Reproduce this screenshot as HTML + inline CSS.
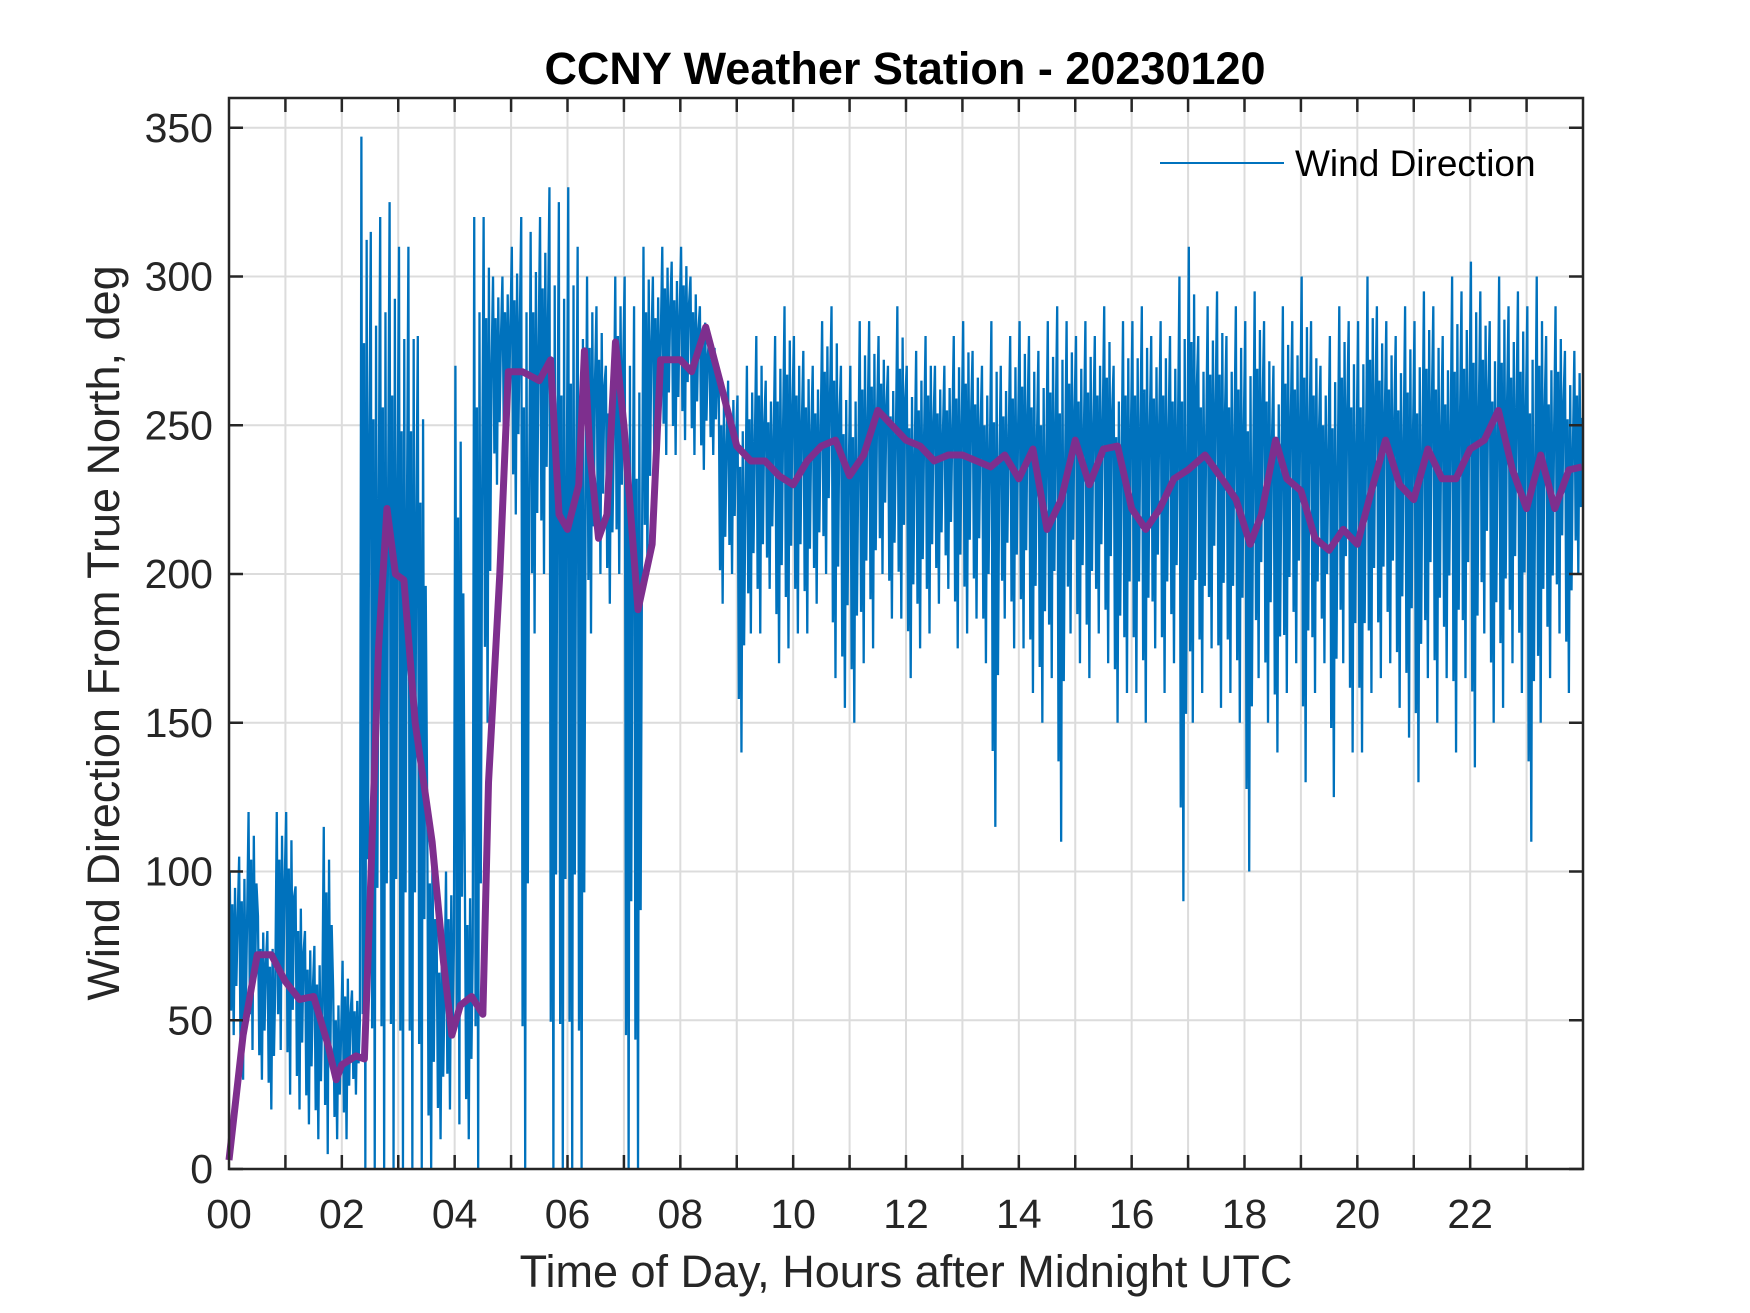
<!DOCTYPE html>
<html><head><meta charset="utf-8"><style>
body{margin:0;background:#fff}
svg{display:block}
text{font-family:"Liberation Sans",Arial,sans-serif;fill:#262626}
</style></head><body>
<svg id="chart" width="1750" height="1313" viewBox="0 0 1750 1313" xmlns="http://www.w3.org/2000/svg">
<rect width="1750" height="1313" fill="#fff"/>
<g id="grid"></g>
<g id="plot"></g>
<g id="axes"></g>
<text x="905" y="84" text-anchor="middle" font-size="45" font-weight="bold" style="fill:#000">CCNY Weather Station - 20230120</text>
<text x="906" y="1287" text-anchor="middle" font-size="45">Time of Day, Hours after Midnight UTC</text>
<text transform="translate(119,633) rotate(-90)" text-anchor="middle" font-size="45">Wind Direction From True North, deg</text>
<g>
<line x1="1160" y1="163" x2="1284" y2="163" stroke="#0072BD" stroke-width="2"/>
<text x="1295" y="176" font-size="37" style="fill:#000">Wind Direction</text>
</g>
</svg>
<script>
const xTicks = [0,2,4,6,8,10,12,14,16,18,20,22];
const xTickLabels = ["00","02","04","06","08","10","12","14","16","18","20","22"];
const yTicks = [0,50,100,150,200,250,300,350];
const blueHi = [100,105,120,85,80,120, 120,95,80,75,115,60, 70,60,347,315,320,325, 310,310,280,120,80,100, 270,100,320,320,300,300,
 310,320,315,320,330,325, 330,310,300,290,270,300, 300,290,310,300,310,305, 310,300,290,280,265,265, 260,270,280,265,280,290,
 280,275,270,285,290,270, 270,285,285,280,270,290, 270,275,280,270,270,280, 285,275,270,285,270,280, 285,280,275,285,290,285,
 280,285,280,290,270,285, 285,290,280,285,280,300, 310,280,290,295,280,290, 285,295,285,270,290,285, 300,285,270,280,290,285,
 285,300,290,285,280,290, 285,295,290,280,300,295, 305,295,285,300,290,295, 290,300,280,290,275,275];
const blueLo = [45,30,40,30,20,40, 25,20,15,10,5,10, 10,25,0,0,0,0, 0,0,0,0,10,20, 15,10,0,150,230,240,
 220,0,180,200,0,0, 0,0,180,200,190,200, 0,0,200,230,240,240, 245,240,235,240,190,200, 140,180,180,195,170,175,
 180,180,190,200,165,155, 150,170,175,200,185,185, 165,175,180,190,195,175, 180,185,170,115,185,175, 175,160,150,165,110,180,
 170,165,180,170,150,160, 160,150,175,160,170,90, 150,160,175,155,160,150, 100,165,150,140,160,170, 130,160,170,125,170,140,
 140,160,165,170,155,145, 130,165,150,165,140,165, 135,180,150,155,170,160, 110,150,165,180,160,200];
const maHours = [0,0.25,0.5,0.75,1,1.25,1.5,1.75,1.9,2,2.25,2.4,2.5,2.65,2.8,2.95,3.1,3.3,3.6,3.8,3.95,4.1,4.3,4.5,4.6,4.8,4.95,5.2,5.5,5.7,5.85,6,6.2,6.3,6.4,6.55,6.7,6.85,7,7.25,7.5,7.65,8,8.2,8.45,8.7,9,9.25,9.5,9.75,10,10.25,10.5,10.75,11,11.25,11.5,11.75,12,12.25,12.5,12.75,13,13.25,13.5,13.75,14,14.25,14.5,14.75,15,15.25,15.5,15.75,16,16.25,16.5,16.75,17,17.3,17.6,17.85,18.1,18.3,18.55,18.75,19,19.25,19.5,19.75,20,20.25,20.5,20.75,21,21.25,21.5,21.75,22,22.25,22.5,22.75,23,23.25,23.5,23.75,23.98];
const maValues = [3,45,72,72,63,57,58,42,30,35,38,37,90,175,222,200,198,150,110,70,45,55,58,52,130,200,268,268,265,272,220,215,230,275,240,212,220,278,250,188,210,272,272,268,283,265,243,238,238,233,230,238,243,245,233,240,255,250,245,243,238,240,240,238,236,240,232,242,215,225,245,230,242,243,222,215,222,232,235,240,232,225,210,220,245,232,228,212,208,215,210,228,245,230,225,242,232,232,242,245,255,235,222,240,222,235,236];

const L=229,R=1583,T=98,B=1169;
const X=h=>L+(h/24)*(R-L);
const Y=v=>B-(v/360)*(B-T);
const NS="http://www.w3.org/2000/svg";
function mk(tag,attrs,parent){const e=document.createElementNS(NS,tag);for(const k in attrs)e.setAttribute(k,attrs[k]);parent.appendChild(e);return e;}
const grid=document.getElementById('grid'),plot=document.getElementById('plot'),axes=document.getElementById('axes');
for(let h=1;h<24;h++){
  const g=mk('line',{x1:X(h),x2:X(h),y1:T,y2:B,stroke:'#dcdcdc','stroke-width':2},grid);
  
  
  const t1=mk('line',{x1:X(h),x2:X(h),y1:B,y2:B-14,stroke:'#262626','stroke-width':2.5},axes);
  
  
  const t2=mk('line',{x1:X(h),x2:X(h),y1:T,y2:T+14,stroke:'#262626','stroke-width':2.5},axes);
  
  
}
yTicks.forEach(v=>{
  if(v>0){const g=mk('line',{x1:L,x2:R,y1:Y(v),y2:Y(v),stroke:'#dcdcdc','stroke-width':2},grid);
  
  }
  const t1=mk('line',{x1:L,x2:L+14,y1:Y(v),y2:Y(v),stroke:'#262626','stroke-width':2.5},axes);
  
  
  const t2=mk('line',{x1:R,x2:R-14,y1:Y(v),y2:Y(v),stroke:'#262626','stroke-width':2.5},axes);
  
  
  const lb=mk('text',{x:L-16,y:Y(v)+14,'text-anchor':'end','font-size':41},axes);
  lb.textContent=v;
  
  
});
xTicks.forEach((h,i)=>{
  const lb=mk('text',{x:X(h),y:1228,'text-anchor':'middle','font-size':41},axes);
  lb.textContent=xTickLabels[i];
  
  
});
// blue series zigzag through bin envelope
let pts=[];const n=blueHi.length,bw=24/n;
const fr6=[[0.08,1],[0.22,0.15],[0.36,0.8],[0.5,0],[0.64,0.9],[0.78,0.3],[0.92,0.7]];
for(let i=0;i<n;i++){
  const h0=i*bw;
  fr6.forEach(([fx,fy])=>{
    pts.push(X(h0+bw*fx)+','+Y(blueLo[i]+(blueHi[i]-blueLo[i])*fy));
  });
}
const bl=mk('polyline',{points:pts.join(' '),fill:'none',stroke:'#0072BD','stroke-width':2.3,'stroke-linejoin':'miter'},plot);


const mp=maHours.map((h,i)=>X(h)+','+Y(maValues[i])).join(' ');
const ma=mk('polyline',{points:mp,fill:'none',stroke:'#7E2F8E','stroke-width':7,'stroke-linejoin':'round'},plot);


const fr=mk('rect',{x:L,y:T,width:R-L,height:B-T,fill:'none',stroke:'#262626','stroke-width':2.5},axes);


</script>
</body></html>
